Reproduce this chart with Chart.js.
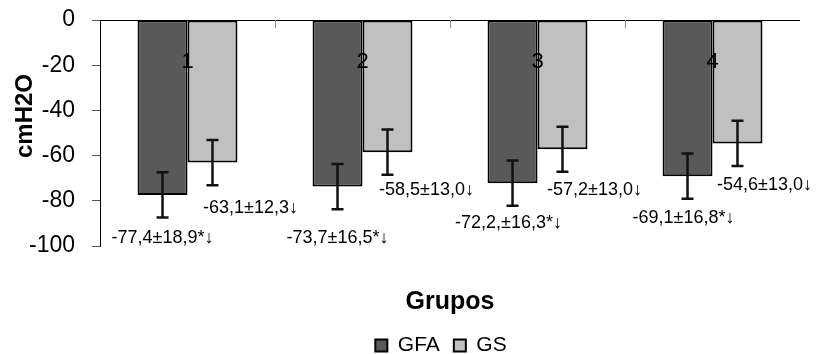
<!DOCTYPE html>
<html>
<head>
<meta charset="utf-8">
<script src="https://cdn.jsdelivr.net/npm/chart.js@4.4.0/dist/chart.umd.min.js"></script>
<style>
  html, body { margin: 0; padding: 0; background: #fff; }
  #wrap { width: 816px; height: 354px; }
</style>
</head>
<body>
<div id="wrap"><canvas id="myChart"></canvas></div>
<script>
const groups = ["1", "2", "3", "4"]
const seriesNames = ["GFA", "GS"]
const gfaMeans = [-77.4, -73.7, -72.2, -69.1]
const gsMeans = [-63.1, -58.5, -57.2, -54.6]
// error bars in the figure are a fixed +-10 for every bar
const gfaErr = [10, 10, 10, 10]
const gsErr = [10, 10, 10, 10]
const gfaLabels = ["-77,4±18,9*↓", "-73,7±16,5*↓", "-72,2,±16,3*↓", "-69,1±16,8*↓"]
const gsLabels = ["-63,1±12,3↓", "-58,5±13,0↓", "-57,2±13,0↓", "-54,6±13,0↓"]
const yTicks = [0, -20, -40, -60, -80, -100]

const font = "'Liberation Sans', Arial, sans-serif"

// where each value label sits: [dx in px from bar centre, y in axis units]
const labelPlace = [
    [[0, -96.5], [0, -96.5], [-4, -89.8], [-4, -87.6]],
    [[38, -83.2], [39, -75.2], [32, -75.2], [27, -73]]
]

const extras = {
    id: 'extras',
    afterLayout(chart) {
        // legend in the original is centred under the plot and sits lower
        const lg = chart.legend
        if (lg) {
            lg.left = 82
            lg.top += 12
            lg.bottom += 12
        }
    },
    afterDatasetsDraw(chart) {
        const ctx = chart.ctx
        const x = chart.scales.x
        const y = chart.scales.y
        const y0 = y.getPixelForValue(0)
        ctx.save()

        // small tick marks between groups, hanging from the zero line
        ctx.strokeStyle = '#888'
        ctx.lineWidth = 1
        for (let i = 0; i < groups.length - 1; i++) {
            const xb = Math.round((x.getPixelForValue(i) + x.getPixelForValue(i + 1)) / 2) + 0.5
            ctx.beginPath()
            ctx.moveTo(xb, y0)
            ctx.lineTo(xb, y0 + 8)
            ctx.stroke()
        }

        chart.data.datasets.forEach((ds, di) => {
            const meta = chart.getDatasetMeta(di)
            meta.data.forEach((bar, i) => {
                const v = ds.data[i]
                const e = ds.errors[i]
                const top = y.getPixelForValue(v + e)
                const bot = y.getPixelForValue(v - e)
                ctx.strokeStyle = '#111'
                ctx.lineWidth = 2.5
                ctx.beginPath()
                ctx.moveTo(bar.x, top); ctx.lineTo(bar.x, bot)
                ctx.moveTo(bar.x - 6, top); ctx.lineTo(bar.x + 6, top)
                ctx.moveTo(bar.x - 6, bot); ctx.lineTo(bar.x + 6, bot)
                ctx.stroke()

                const p = labelPlace[di][i]
                ctx.fillStyle = '#000'
                ctx.font = '18px ' + font
                ctx.textAlign = 'center'
                ctx.textBaseline = 'middle'
                ctx.fillText(ds.valueLabels[i], bar.x + p[0], y.getPixelForValue(p[1]))
            })
        })

        // group numbers just under the zero line
        ctx.fillStyle = '#000'
        ctx.font = '22px ' + font
        ctx.textAlign = 'center'
        ctx.textBaseline = 'middle'
        groups.forEach((g, i) => {
            ctx.fillText(g, x.getPixelForValue(i), y0 + 42)
        })

        // y axis title
        ctx.translate(25, 116)
        ctx.rotate(-Math.PI / 2)
        ctx.font = 'bold 24px ' + font
        ctx.fillText('cmH2O', 0, 0)
        ctx.restore()
    }
}

const ctx = document.getElementById('myChart').getContext('2d')

const myChart = new Chart(ctx, {
    type: 'bar',
    data: {
        labels: groups,
        datasets: [{
            label: seriesNames[0],
            data: gfaMeans,
            errors: gfaErr,
            valueLabels: gfaLabels,
            backgroundColor: '#595959',
            borderColor: '#000',
            borderWidth: 2,
            borderSkipped: false
        }, {
            label: seriesNames[1],
            data: gsMeans,
            errors: gsErr,
            valueLabels: gsLabels,
            backgroundColor: '#c0c0c0',
            borderColor: '#000',
            borderWidth: 2,
            borderSkipped: false
        }]
    },
    options: {
        responsive: true,
        maintainAspectRatio: false,
        animation: false,
        categoryPercentage: 0.571,
        barPercentage: 1,
        layout: {
            padding: { top: 20, left: 0, right: 16, bottom: 0 }
        },
        plugins: {
            legend: {
                position: 'bottom',
                labels: {
                    font: { family: font, size: 21 },
                    color: '#000',
                    boxWidth: 12,
                    boxHeight: 12,
                    padding: 14
                }
            },
            tooltip: { enabled: false }
        },
        scales: {
            x: {
                grid: { display: false, drawTicks: false },
                border: { display: false },
                ticks: { display: false },
                title: {
                    display: true,
                    text: 'Grupos',
                    color: '#000',
                    font: { family: font, size: 25, weight: 'bold' },
                    padding: { top: 41, bottom: -8 }
                }
            },
            y: {
                min: -100,
                max: 0,
                afterBuildTicks: (scale) => {
                    scale.ticks = yTicks.slice().sort((a, b) => a - b).map(v => ({ value: v }))
                },
                afterFit: (scale) => {
                    scale.width = 100
                    scale.paddingTop = 0
                    scale.paddingBottom = 0
                },
                grid: {
                    color: (c) => (c.tick && c.tick.value === 0) ? '#000' : 'rgba(0,0,0,0)',
                    tickColor: '#555',
                    tickLength: 8
                },
                border: { color: '#000', width: 1 },
                ticks: {
                    color: '#000',
                    padding: 17,
                    font: { family: font, size: 23 }
                }
            }
        }
    },
    plugins: [extras]
})
</script>
</body>
</html>
